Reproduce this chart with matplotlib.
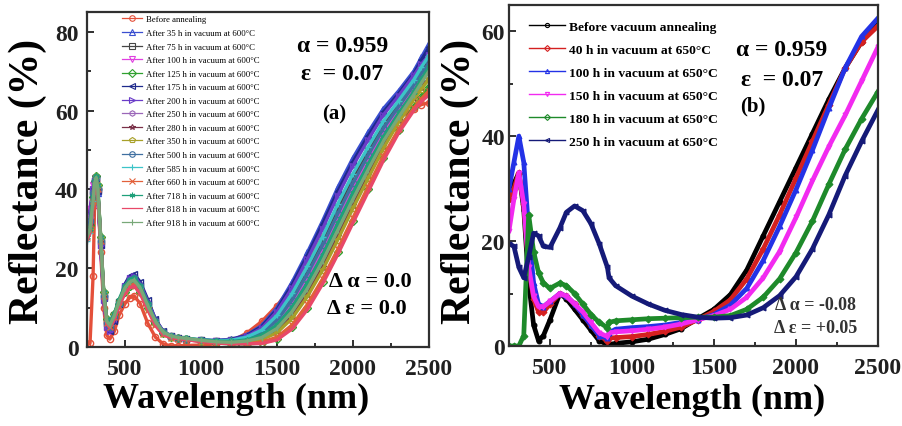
import matplotlib
matplotlib.use("Agg")
import matplotlib.pyplot as plt
from matplotlib.lines import Line2D
from matplotlib.ticker import MultipleLocator

plt.rcParams['font.family'] = ['Liberation Serif', 'DejaVu Serif']

# ---------------- panel (a): 600 degC vacuum ageing ----------------
wl_a = [250, 270, 290, 300, 310, 320, 340, 360, 380, 400, 430, 460, 500, 530, 560,
        600, 650, 700, 750, 800, 850, 900, 1000, 1100, 1200, 1300, 1400, 1500, 1600,
        1700, 1800, 1900, 2000, 2100, 2200, 2300, 2400, 2450, 2500]

labels_a = [
    "Before annealing",
    "After 35 h in vacuum at 600°C",
    "After 75 h in vacuum at 600°C",
    "After 100 h in vacuum at 600°C",
    "After 125 h in vacuum at 600°C",
    "After 175 h in vacuum at 600°C",
    "After 200 h in vacuum at 600°C",
    "After 250 h in vacuum at 600°C",
    "After 280 h in vacuum at 600°C",
    "After 350 h in vacuum at 600°C",
    "After 500 h in vacuum at 600°C",
    "After 585 h in vacuum at 600°C",
    "After 660 h in vacuum at 600°C",
    "After 718 h in vacuum at 600°C",
    "After 818 h in vacuum at 600°C",
    "After 918 h in vacuum at 600°C",
]

r_before = [0.5, 1, 18, 36, 42, 40, 24, 10, 3, 2, 4, 8, 11, 12.5, 13, 11, 6, 2.5, 0.8, 0.3, 0.3, 0.4, 0.5, 0.8,
            1.5, 3.5, 6.5, 10.5, 15.5, 21.5, 28, 35, 41, 47, 53, 58, 60.5, 61.5, 62]
r_35h = [33, 35, 40, 42, 42.5, 39, 26, 13, 6, 4.5, 7, 11, 15.5, 17.5, 18, 16, 11.5, 7, 4, 2.8, 2.3, 2.0, 1.8, 1.6,
         2, 3, 5.5, 10, 16.5, 24, 32, 40.5, 48, 54.5, 60.5, 65, 70, 73.5, 77]
r_75h = [30, 32, 39, 42, 43, 40, 27, 13, 6, 5, 8, 11.5, 15, 17, 17.5, 15.5, 11, 6.5, 3.8, 2.7, 2.2, 2.0, 1.7, 1.5,
         1.7, 2.4, 4.1, 7.6, 13, 19.8, 27.3, 35.5, 43.2, 50, 56.6, 62, 67, 70, 73]
r_100h = [34, 35, 41, 43, 43, 39, 25, 12, 5.5, 4, 6.5, 10.5, 15, 17, 17.5, 15.5, 11, 6.5, 3.5, 2.5, 2.0, 1.8, 1.5, 1.4,
          1.4, 1.9, 3.2, 6, 10.8, 17, 24.2, 32.2, 40, 47.2, 54.2, 60, 65.5, 68.5, 71]
r_125h = [30, 31, 38, 42, 43.5, 41, 28, 14, 7, 6, 8.5, 11, 14, 15.5, 16, 14, 10, 6, 3.5, 2.5, 2.2, 2.0, 1.5, 1.0,
          0.8, 0.8, 1, 2, 5, 10, 16.5, 24, 32, 40, 48, 55, 61, 63.5, 66]
r_175h = [32, 34, 40, 42.5, 43, 39.5, 26, 12.5, 5.5, 4, 6.5, 11, 16, 18, 18.5, 16.5, 12, 7, 4, 2.8, 2.3, 2.1, 1.8, 1.6,
          1.9, 2.9, 5.2, 9.5, 15.8, 23.2, 31.2, 39.5, 47, 53.6, 59.6, 64.3, 69.3, 72.8, 76]
r_200h = [33, 34, 40, 42, 43, 40, 26, 12, 5, 4, 7, 11, 15.5, 17.5, 18, 16, 11.5, 7, 4, 2.7, 2.2, 2.0, 1.7, 1.6,
          1.8, 2.7, 4.8, 9, 15, 22.3, 30, 38.4, 46, 52.6, 58.9, 63.7, 68.9, 71.8, 74]
r_250h = [31, 33, 39, 42, 43, 40, 27, 13, 6, 5, 7.5, 11, 15, 16.5, 17, 15, 10.5, 6.5, 3.8, 2.7, 2.2, 2.0, 1.6, 1.3,
          1.3, 1.6, 2.6, 5, 9.4, 15.3, 22.3, 30.2, 38, 45.4, 52.6, 58.7, 64.3, 67.2, 70]
r_280h = [29, 31, 38, 42, 43, 40.5, 27.5, 13.5, 6.5, 5.5, 8, 11, 14.5, 16, 16.5, 14.5, 10, 6, 3.6, 2.6, 2.2, 2.0, 1.5, 1.2,
          1.1, 1.3, 2.1, 4, 7.9, 13.5, 20.3, 28.1, 36, 43.6, 51.1, 57.5, 63.2, 66, 68]
r_350h = [29, 30, 37, 41.5, 43.5, 41, 28, 14, 7, 6, 8.5, 11.5, 14.5, 16, 16.5, 14.5, 10, 6, 3.5, 2.6, 2.3, 2.1, 1.6, 1.2,
          1.0, 1.2, 1.9, 3.6, 7.3, 12.8, 19.5, 27.2, 35.2, 42.8, 50.4, 57, 62.8, 65.5, 68]
r_500h = [30, 32, 39, 42, 43, 40, 27, 13, 6, 5, 7.5, 11, 15, 17, 17.5, 15.5, 11, 6.5, 3.8, 2.7, 2.3, 2.1, 1.7, 1.4,
          1.5, 2.1, 3.6, 6.8, 12, 18.5, 25.8, 33.8, 41.6, 48.7, 55.5, 61, 66.5, 69.5, 72]
r_585h = [27, 29, 37, 41.5, 43, 40.5, 27.5, 13.5, 6.5, 5.5, 8, 11.5, 15, 16.5, 17, 15, 10.5, 6.5, 3.8, 2.8, 2.4, 2.2, 1.8, 1.6,
          1.7, 2.5, 4.3, 8, 13.6, 20.5, 28, 36.3, 44, 50.8, 57.3, 62.5, 67.8, 71, 74]
r_660h = [28, 30, 37, 41, 42.5, 40, 27, 13, 6, 5, 7.5, 10.5, 14, 15.5, 16, 14, 9.5, 5.5, 3.2, 2.4, 2.1, 1.9, 1.4, 1.1,
          0.9, 0.9, 1.2, 2.5, 5.6, 10.8, 17.3, 24.8, 32.8, 40.7, 48.5, 55.2, 60.6, 63, 65]
r_718h = [28, 30, 38, 42, 43.5, 41, 28, 14, 7, 6, 8.5, 12, 15.5, 17, 17.5, 15.5, 11, 6.5, 3.8, 2.8, 2.4, 2.2, 1.8, 1.5,
          1.4, 1.8, 3, 5.6, 10.2, 16.3, 23.4, 31.4, 39.2, 46.4, 53.4, 59.3, 64.8, 68, 71]
r_818h = [27, 29, 36, 41, 42.5, 40, 27, 13, 6, 5, 7, 10.5, 13.5, 15, 15.5, 13.5, 9.5, 5.5, 3.2, 2.4, 2.1, 1.9, 1.4, 1.0,
          0.8, 0.8, 0.9, 1.8, 4.6, 9.5, 16, 23.5, 31.5, 39.4, 47.3, 54.3, 60, 62.3, 64]
r_918h = [28, 30, 37, 41.5, 43, 40.5, 27.5, 13.5, 6.5, 5.5, 8, 11.5, 15, 16.5, 17, 15, 10.5, 6.5, 3.8, 2.8, 2.4, 2.2, 1.7, 1.3,
          1.2, 1.5, 2.4, 4.7, 9, 14.8, 21.8, 29.6, 37.5, 45, 52.2, 58.3, 64, 67, 70]

series_a = [r_before, r_35h, r_75h, r_100h, r_125h, r_175h, r_200h, r_250h,
            r_280h, r_350h, r_500h, r_585h, r_660h, r_718h, r_818h, r_918h]
colors_a = ['#e4503a', '#3a4fd0', '#454545', '#e040e0', '#2fa02f', '#1e2a8c',
            '#6a3cc8', '#9a66b8', '#7a3048', '#a8a028', '#3f6fa0', '#3cc4c8',
            '#e2603a', '#1fa07a', '#e84868', '#78a878']
markers_a = ['o', '^', 's', 'v', 'D', '<', '>', 'h', '*', 'p', 'o', '+', 'x',
             (6, 2, 0), 'None', '|']

# ---------------- panel (b): 650 degC vacuum ageing ----------------
wl_b = [250, 280, 310, 340, 370, 400, 430, 460, 500, 560, 600, 650, 700, 750, 800,
        850, 860, 900, 1000, 1100, 1200, 1300, 1400, 1500, 1600, 1700, 1800, 1900,
        2000, 2100, 2200, 2300, 2400, 2500]

labels_b = [
    "Before vacuum annealing",
    "40 h in vacuum at 650°C",
    "100 h in vacuum at 650°C",
    "150 h in vacuum at 650°C",
    "180 h in vacuum at 650°C",
    "250 h in vacuum at 650°C",
]

b_before = [28, 31, 33, 26, 12, 4, 1, 2, 5, 10, 9, 7, 5, 3, 1, 0.3, 0.3, 0.5, 0.8, 1.3, 2.2, 3.3, 5.2,
            7, 9.8, 14.5, 21, 27.5, 34, 40.5, 47, 53, 58, 61.5]
b_40h = [28, 30, 33, 27, 15, 9, 6.5, 6.5, 8, 10, 9.5, 8, 6, 4, 2, 1, 1.5, 1.6, 1.8, 2.2, 2.8, 3.6, 5,
         6.6, 8.8, 12.8, 18.5, 25, 32, 39, 46, 53, 58, 61]
b_100h = [30, 35, 40, 35, 22, 12, 8, 7.5, 8.5, 10, 9.5, 8, 6, 4, 2, 1.5, 2.5, 3.2, 3.5, 3.7, 4, 4.5, 5,
          6, 7.8, 11, 16.3, 22.8, 29.8, 37.3, 45.3, 53, 59, 62.5]
b_150h = [22, 28, 33, 27, 15, 9.5, 7.5, 7.5, 8.5, 10, 9.5, 8, 6.5, 4.5, 2.5, 1.8, 2.5, 2.7, 2.9, 3.2, 3.6, 4.2, 5,
          5.8, 7, 9.3, 13, 18, 24.5, 31.5, 38, 44, 50.5, 57]
b_180h = [0, 0, 0, 2, 25, 18, 14, 12, 11, 12, 11.5, 10, 8, 6, 4.5, 3.5, 4.5, 4.8, 5, 5.2, 5.3, 5.4, 5.5,
          5.5, 5.8, 7, 9.3, 12.8, 17.8, 23.8, 30.8, 37.5, 43.3, 48.5]
b_250h = [19.5, 19, 15, 13, 17, 21.5, 21, 19, 18.8, 22.5, 25.5, 26.7, 25.8, 23.3, 19.5, 15, 13, 11.5, 9.5, 8, 6.8, 6, 5.5,
          5.3, 5.4, 5.9, 7.3, 9.6, 13.2, 18.5, 25, 32.5, 39, 45]

series_b = [b_before, b_40h, b_100h, b_150h, b_180h, b_250h]
colors_b = ['#000000', '#d42020', '#2332e6', '#f22af0', '#1e8a2a', '#151a78']
markers_b = ['o', 'D', '^', 'v', 'D', '<']

# ---------------- figure ----------------
fig = plt.figure(figsize=(9.03, 4.27), dpi=100)
W, H = 903.0, 427.0
ax_a = fig.add_axes([87 / W, 1 - 348 / H, (429 - 87) / W, (348 - 13) / H])
ax_b = fig.add_axes([509 / W, 1 - 347 / H, (878 - 509) / W, (347 - 6) / H])

for ys, c, m in zip(series_a, colors_a, markers_a):
    ax_a.plot(wl_a, ys, color=c, lw=2.4, marker=m, ms=4.5,
              mfc='none', mew=1.0, zorder=2)

for ys, c, m in zip(series_b, colors_b, markers_b):
    ax_b.plot(wl_b, ys, color=c, lw=3.4, marker=m, ms=3.5,
              mfc=c, mew=0.8, zorder=2)

def style_axes(ax, ymax, ytick_pad):
    ax.set_xlim(250, 2500)
    ax.set_ylim(0, ymax)
    ax.xaxis.set_major_locator(MultipleLocator(500))
    ax.xaxis.set_minor_locator(MultipleLocator(250))
    ax.yaxis.set_major_locator(MultipleLocator(20))
    ax.yaxis.set_minor_locator(MultipleLocator(10))
    ax.tick_params(which='both', direction='in', top=False, right=False,
                   width=1.3, colors='#202020')
    ax.tick_params(which='major', length=5)
    ax.tick_params(which='minor', length=3)
    ax.tick_params(axis='x', pad=8, labelsize=17)
    ax.tick_params(axis='y', pad=ytick_pad, labelsize=17)
    for lab in ax.get_xticklabels() + ax.get_yticklabels():
        lab.set_fontweight('bold')
    for sp in ax.spines.values():
        sp.set_linewidth(1.6)
        sp.set_color('#303030')

style_axes(ax_a, 85, 6)
style_axes(ax_b, 65, 3)

# legends
handles_a = [Line2D([], [], color=c, marker=m, ms=4, mfc='none', lw=0.9, mew=0.8)
             for c, m in zip(colors_a, markers_a)]
ax_a.legend(handles_a, labels_a, loc='upper left', bbox_to_anchor=(118 / W, 1 - 12 / H),
            bbox_transform=fig.transFigure, frameon=False, fontsize=6.3,
            handlelength=2.3, handletextpad=0.4, labelspacing=0.62, borderpad=0)

handles_b = [Line2D([], [], color=c, marker=m, ms=3, mfc='none', lw=1.0, mew=0.8)
             for c, m in zip(colors_b, markers_b)]
ax_b.legend(handles_b, labels_b, loc='upper left', bbox_to_anchor=(522 / W, 1 - 15 / H),
            bbox_transform=fig.transFigure, frameon=False,
            prop={'weight': 'bold', 'size': 9.7},
            handlelength=2.7, handletextpad=0.3, labelspacing=0.78, borderpad=0)

# axis titles
for x in (28, 460):
    fig.text(x / W, 1 - 181 / H, "Reflectance (%)", rotation=90, ha='center',
             va='center', fontsize=30, fontweight='bold')
fig.text(236 / W, 1 - 399 / H, "Wavelength (nm)", ha='center', va='center',
         fontsize=26, fontweight='bold')
fig.text(692 / W, 1 - 400 / H, "Wavelength (nm)", ha='center', va='center',
         fontsize=26, fontweight='bold')

# annotations
def note(x, y, s, size, color='black'):
    fig.text(x / W, 1 - y / H, s, ha='center', va='center', fontsize=size,
             fontweight='bold', color=color)

note(343, 46, "α = 0.959", 17)
note(342, 74, "ε  = 0.07", 17)
note(334, 114, "(a)", 15)
note(370, 282, "Δ α = 0.0", 16)
note(367, 309, "Δ ε = 0.0", 16)

note(782, 50, "α = 0.959", 17)
note(782, 80, "ε  = 0.07", 17)
note(753, 106, "(b)", 15)
note(816, 306, "Δ α = -0.08", 13, '#333333')
note(816, 329, "Δ ε = +0.05", 13, '#333333')

fig.savefig("out.png", dpi=100)
